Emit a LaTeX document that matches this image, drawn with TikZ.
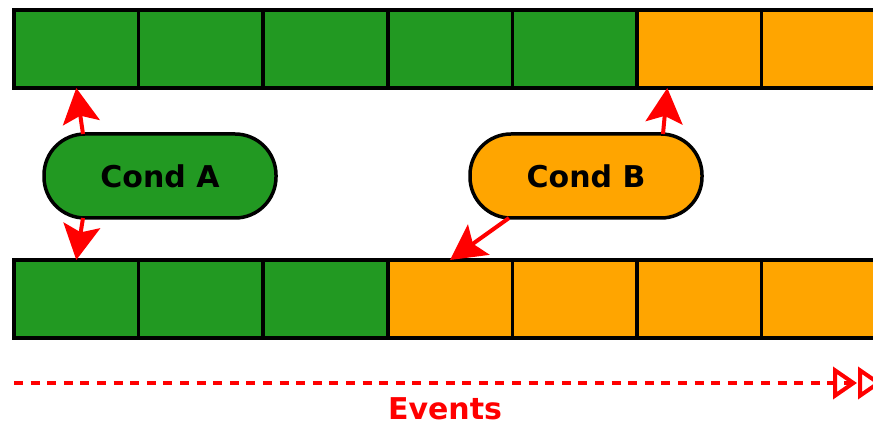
\documentclass[tikz,border=0pt]{standalone}
\usepackage{fontspec}
\setmainfont{DejaVu Sans}
\usetikzlibrary{arrows.meta}
\definecolor{cgreen}{RGB}{34,153,34}
\definecolor{corange}{RGB}{255,165,0}
\begin{document}
\begin{tikzpicture}[x=1pt,y=-1pt,
  cell/.style={draw=black,line width=3.5pt,minimum width=124.6pt,minimum height=78pt,inner sep=0pt,outer sep=0pt},
  gcell/.style={cell,fill=cgreen},
  ocell/.style={cell,fill=corange},
  cond/.style={draw=black,line width=3.5pt,rounded corners=41pt,minimum width=232pt,minimum height=84pt,inner sep=0pt,outer sep=0pt,font=\fontsize{30}{34}\selectfont\bfseries},
  arr/.style={red,line width=4pt,-{Stealth[length=35pt,width=37pt,inset=7pt]}},
  evarr/.style={red,line width=4pt,dash pattern=on 9pt off 7.6pt,
    -{Triangle[open,length=24pt,width=32pt,line width=4pt,sep=1pt] Triangle[open,length=24pt,width=32pt,line width=4pt]}}]
\useasboundingbox (0,0) rectangle (873,427);
\clip (0,0) rectangle (873,427);
% top row
\foreach \i in {0,...,4} \node[gcell] (t\i) at (76.3+124.6*\i,49) {};
\foreach \i in {5,6} \node[ocell] (t\i) at (76.3+124.6*\i,49) {};
% bottom row
\foreach \i in {0,...,2} \node[gcell] (b\i) at (76.3+124.6*\i,299) {};
\foreach \i in {3,...,6} \node[ocell] (b\i) at (76.3+124.6*\i,299) {};
% conditions
\node[cond,fill=cgreen] (condA) at (160,176) {Cond A};
\node[cond,fill=corange] (condB) at (586,176) {Cond B};
% arrows
\draw[arr] ([xshift=-77pt]condA.north) -- (t0.south);
\draw[arr] ([xshift=-77pt]condA.south) -- (b0.north);
\draw[arr] ([xshift=77pt]condB.north) -- ([xshift=-32pt]t5.south);
\draw[arr] ([xshift=-77pt]condB.south) -- (b3.north);
% events
\coordinate (ev0) at (14,383);
\coordinate (ev1) at (882,383);
\draw[evarr] (ev0) -- (ev1);
\node[red,font=\fontsize{30}{34}\selectfont\bfseries,anchor=base,inner sep=0pt] (events) at (445,420) {Events};
\end{tikzpicture}
\end{document}
